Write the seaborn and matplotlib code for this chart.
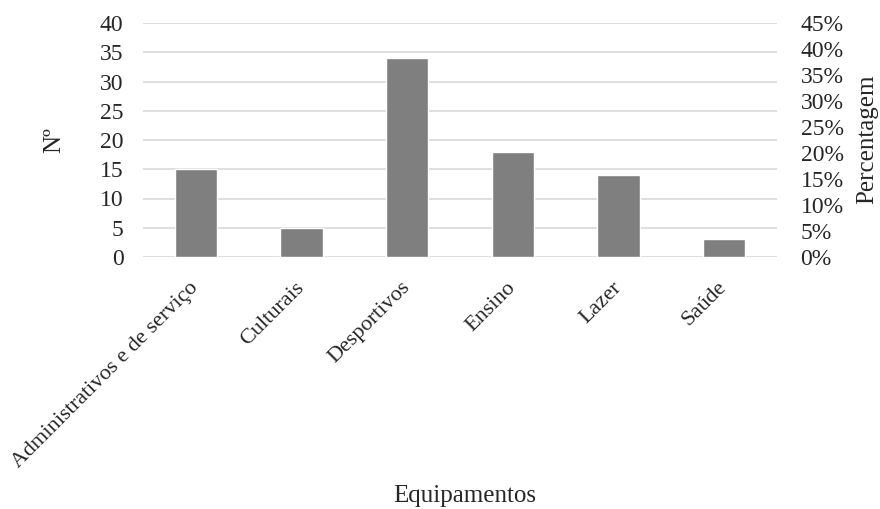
import matplotlib
matplotlib.use("Agg")
import matplotlib.pyplot as plt
import seaborn as sns
import pandas as pd

categories = ["Administrativos e de serviço", "Culturais", "Desportivos",
              "Ensino", "Lazer", "Saúde"]
counts = [15, 5, 34, 18, 14, 3]
left_ticks = [0, 5, 10, 15, 20, 25, 30, 35, 40]
right_ticks = [0, 5, 10, 15, 20, 25, 30, 35, 40, 45]

sns.set_theme(style="white")
plt.rcParams["font.family"] = ["Liberation Serif", "DejaVu Serif"]
plt.rcParams["text.color"] = "#262626"

df = pd.DataFrame({"Equipamentos": categories, "N": counts})

W, H = 880, 509
fig = plt.figure(figsize=(W / 100, H / 100), dpi=100)
ax = fig.add_axes([143 / W, 1 - 257 / H, (777 - 143) / W, (257 - 23) / H])

sns.barplot(data=df, x="Equipamentos", y="N", color="#7f7f7f",
            saturation=1, width=0.4, ax=ax, zorder=3)

ax.set_ylim(0, 40)
ax.set_yticks(left_ticks)
ax.set_yticklabels([str(t) for t in left_ticks], fontsize=17, color="#262626")
ax.yaxis.grid(True, color="#d9d9d9", linewidth=1.2, zorder=0)
ax.set_axisbelow(True)
for s in ax.spines.values():
    s.set_visible(False)
ax.tick_params(axis="y", length=0, pad=14)
ax.tick_params(axis="x", length=0, pad=20)
ax.set_xticks(range(len(categories)))
ax.set_xticklabels(categories, rotation=45, ha="right", va="center",
                   rotation_mode="anchor", fontsize=16, color="#262626")
ax.set_xlabel("")
ax.set_ylabel("")

fig.text(465 / W, 1 - 496 / H, "Equipamentos", fontsize=18,
         ha="center", va="center")
fig.text(54 / W, 1 - 140 / H, "Nº", fontsize=18, rotation=90,
         ha="center", va="center")

ax2 = ax.twinx()
ax2.set_ylim(0, 45)
ax2.set_yticks(right_ticks)
ax2.set_yticklabels([f"{t}%" for t in right_ticks], fontsize=17, color="#262626")
ax2.tick_params(axis="y", length=0, pad=17)
for s in ax2.spines.values():
    s.set_visible(False)
ax2.grid(False)
fig.text(867 / W, 1 - 139 / H, "Percentagem", fontsize=18, rotation=90,
         ha="center", va="center")

fig.savefig("out.png", dpi=100)
